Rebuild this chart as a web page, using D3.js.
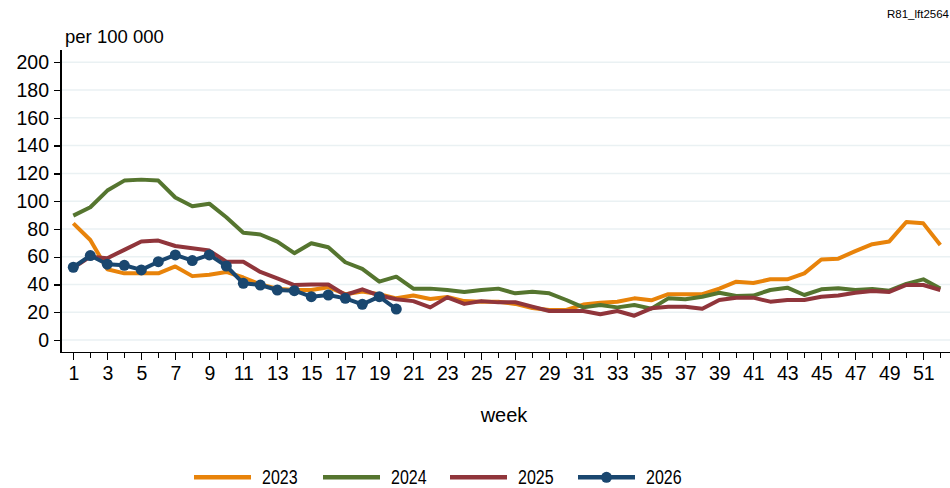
<!DOCTYPE html>
<html>
<head>
<meta charset="utf-8">
<script src="https://cdn.jsdelivr.net/npm/d3@7"></script>
<style>
  body { margin: 0; background: #fff; }
  svg { display: block; font-family: "Liberation Sans", Arial, sans-serif; }
  .grid line { stroke: #eaf1f3; stroke-width: 1.5; }
  .axis path, .axis line { stroke: #000; stroke-width: 1.3; shape-rendering: crispEdges; }
  .axis text { font-size: 19.5px; fill: #000; }
</style>
</head>
<body>
<svg id="chart" width="950" height="488"></svg>
<script>
// ---- data ----
const weeks = d3.range(1, 53);
const yTicks = d3.range(0, 201, 20);
const xTicksMajor = d3.range(1, 53, 2);

const years = ['2023', '2024', '2025', '2026'];
const colors = ['#e8830a', '#55752f', '#90353b', '#1a476f'];

const v2023 = [84, 72, 51, 48, 48, 48, 53, 46, 47, 49, 45, 40, 37, 36, 36, 38, 33, 35, 33, 30,
  32, 29.5, 31, 28, 27.6, 27.5, 26, 23, 21.6, 21.6, 25.5, 26.8, 27.6, 30, 28.6, 33, 33, 33, 37, 42,
  41, 43.7, 43.7, 48, 58, 58.6, 64, 69, 71, 85, 84, 68.5];
const v2024 = [89.6, 95.6, 107.6, 114.8, 115.5, 114.8, 102.6, 96.3, 98.2, 88.4, 77.3, 76, 70.9, 62.5, 69.7, 66.8, 56, 51.2, 42, 45.6,
  37, 37, 36, 34.6, 36, 37, 33.6, 34.8, 33.6, 28.8, 23.5, 25.2, 23.5, 25.2, 22.6, 30, 29.3, 31.2, 34, 31.7,
  32, 36, 37.7, 32.4, 36.5, 37.2, 36, 36.8, 35.5, 40.4, 43.7, 37];
const v2025 = [52, 60, 58.9, 64.9, 70.9, 71.6, 67.7, 66.1, 64.4, 56.4, 56.4, 49, 44.4, 39.6, 40, 40, 32.4, 36.5, 32, 29.3,
  28, 23.5, 30.7, 26, 28, 27.1, 27.2, 24, 20.9, 20.9, 20.9, 18.5, 20.9, 17.5, 22.8, 24, 24, 22.5, 28.8, 30.5,
  30.5, 27.6, 28.8, 28.8, 31.2, 32, 34, 35.3, 34.6, 39.6, 39.6, 36];
const v2026 = [52.4, 60.8, 54.6, 53.8, 50.5, 56.4, 61.3, 57.2, 61.3, 53.3, 40.8, 39.6, 36, 35.5, 31.2, 32.4, 30, 25.7, 31.2, 22.3];

const seriesValues = [v2023, v2024, v2025, v2026];

// ---- layout ----
const svg = d3.select('#chart');
const x = d3.scaleLinear().domain([1, 52]).range([73.3, 940.3]);
const y = d3.scaleLinear().domain([0, 200]).range([340, 62.3]);
const axisX0 = 61, axisY0 = 352.5, rightEdge = 950;

// gridlines
svg.append('g').attr('class', 'grid')
  .selectAll('line').data(yTicks).join('line')
  .attr('x1', axisX0 + 1).attr('x2', rightEdge)
  .attr('y1', d => y(d)).attr('y2', d => y(d));

// y axis
const yAxis = svg.append('g').attr('class', 'axis')
  .attr('transform', `translate(${axisX0},0)`)
  .call(d3.axisLeft(y).tickValues(yTicks).tickSize(7).tickPadding(5).tickSizeOuter(0));
yAxis.select('.domain').attr('d', `M0,50V${axisY0}`);

// x axis: major (odd, labelled) + minor (even) ticks
const xAxis = svg.append('g').attr('class', 'axis')
  .attr('transform', `translate(0,${axisY0})`)
  .call(d3.axisBottom(x).tickValues(xTicksMajor).tickFormat(d3.format('d')).tickSize(7.5).tickPadding(6).tickSizeOuter(0));
xAxis.select('.domain').attr('d', `M${axisX0},0H${rightEdge}`);
svg.append('g').attr('class', 'axis')
  .attr('transform', `translate(0,${axisY0})`)
  .selectAll('line').data(weeks.filter(w => w % 2 === 0)).join('line')
  .attr('x1', d => x(d)).attr('x2', d => x(d)).attr('y1', 0).attr('y2', 5);

// lines
const line = d3.line().x((d, i) => x(weeks[i])).y(d => y(d));
seriesValues.forEach((vals, k) => {
  svg.append('path')
    .datum(vals)
    .attr('fill', 'none')
    .attr('stroke', colors[k])
    .attr('stroke-width', 4)
    .attr('stroke-linejoin', 'round')
    .attr('d', line);
});
// markers for 2026
svg.append('g').selectAll('circle').data(v2026).join('circle')
  .attr('cx', (d, i) => x(weeks[i])).attr('cy', d => y(d))
  .attr('r', 5.5).attr('fill', colors[3]);

// titles
svg.append('text').attr('x', 65).attr('y', 42.7)
  .attr('font-size', 18.5).text('per 100 000');
svg.append('text').attr('x', 949).attr('y', 18.3)
  .attr('text-anchor', 'end').attr('font-size', 11.5).text('R81_lft2564');
svg.append('text').attr('x', 504).attr('y', 422)
  .attr('text-anchor', 'middle').attr('font-size', 20).text('week');

// legend (condensed text like the original)
const legendX = [194, 323, 450, 578];
const lg = svg.append('g');
years.forEach((yr, k) => {
  const g = lg.append('g').attr('transform', `translate(${legendX[k]},477.3)`);
  g.append('line').attr('x1', 0).attr('x2', 57).attr('y1', 0).attr('y2', 0)
    .attr('stroke', colors[k]).attr('stroke-width', 4.5);
  if (k === 3) g.append('circle').attr('cx', 28.5).attr('cy', 0).attr('r', 5.5).attr('fill', colors[k]);
  g.append('text').attr('transform', 'translate(68,7) scale(0.82,1)')
    .attr('font-size', 19.5).text(yr);
});
</script>
</body>
</html>
